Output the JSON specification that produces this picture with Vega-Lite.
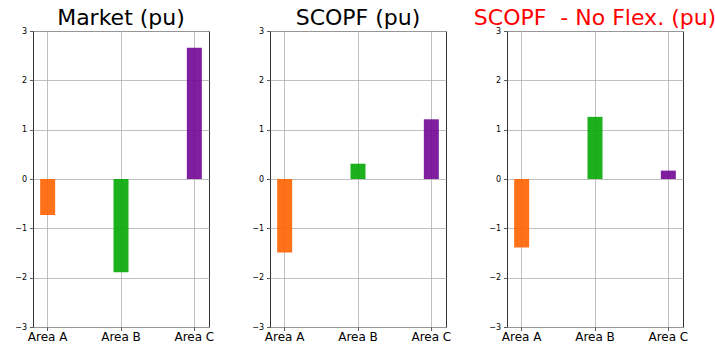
{
  "$schema": "https://vega.github.io/schema/vega-lite/v6.json",
  "autosize": {"type": "pad"},
  "padding": {"left": 14, "top": 6, "right": 0, "bottom": 3},
  "background": "white",
  "config": {
    "font": "DejaVu Sans",
    "view": {"stroke": "#333333", "strokeWidth": 1},
    "title": {"font": "DejaVu Sans", "fontSize": 22, "fontWeight": "normal", "color": "black", "offset": -3, "anchor": "middle"},
    "axis": {
      "grid": true, "gridColor": "#b0b0b0", "gridWidth": 0.8,
      "domain": false, "tickColor": "#333333", "tickSize": 3.5, "tickWidth": 0.8,
      "labelFont": "DejaVu Sans", "labelColor": "black", "title": null
    }
  },
  "data": {"values": [
    {"panel": "Market", "area": "Area A", "value": -0.73},
    {"panel": "Market", "area": "Area B", "value": -1.89},
    {"panel": "Market", "area": "Area C", "value": 2.66},
    {"panel": "SCOPF", "area": "Area A", "value": -1.49},
    {"panel": "SCOPF", "area": "Area B", "value": 0.31},
    {"panel": "SCOPF", "area": "Area C", "value": 1.21},
    {"panel": "NoFlex", "area": "Area A", "value": -1.39},
    {"panel": "NoFlex", "area": "Area B", "value": 1.26},
    {"panel": "NoFlex", "area": "Area C", "value": 0.17}
  ]},
  "spacing": 61,
  "bounds": "flush",
  "hconcat": [
    {
      "title": {"text": "Market (pu)"},
      "width": 176, "height": 296,
      "transform": [{"filter": "datum.panel === 'Market'"}],
      "mark": {"type": "bar", "opacity": 0.9},
      "encoding": {
        "x": {"field": "area", "type": "nominal", "sort": null,
              "scale": {"type": "band", "paddingInner": 0.7955, "paddingOuter": 0.0977},
              "axis": {"labelAngle": 0, "labelFontSize": 12, "labelPadding": 1}},
        "y": {"field": "value", "type": "quantitative",
              "scale": {"domain": [-3, 3], "nice": false},
              "axis": {"values": [-3, -2, -1, 0, 1, 2, 3], "format": "d", "labelFontSize": 8, "labelPadding": 3,
                       "labelExpr": "replace(datum.label, '-', '\u2212')"}},
        "color": {"field": "area", "type": "nominal", "legend": null,
                  "scale": {"domain": ["Area A", "Area B", "Area C"], "range": ["#ff6300", "#04aa04", "#710694"]}}
      }
    },
    {
      "title": {"text": "SCOPF (pu)"},
      "width": 176, "height": 296,
      "transform": [{"filter": "datum.panel === 'SCOPF'"}],
      "mark": {"type": "bar", "opacity": 0.9},
      "encoding": {
        "x": {"field": "area", "type": "nominal", "sort": null,
              "scale": {"type": "band", "paddingInner": 0.7955, "paddingOuter": 0.0977},
              "axis": {"labelAngle": 0, "labelFontSize": 12, "labelPadding": 1}},
        "y": {"field": "value", "type": "quantitative",
              "scale": {"domain": [-3, 3], "nice": false},
              "axis": {"values": [-3, -2, -1, 0, 1, 2, 3], "format": "d", "labelFontSize": 8, "labelPadding": 3,
                       "labelExpr": "replace(datum.label, '-', '\u2212')"}},
        "color": {"field": "area", "type": "nominal", "legend": null,
                  "scale": {"domain": ["Area A", "Area B", "Area C"], "range": ["#ff6300", "#04aa04", "#710694"]}}
      }
    },
    {
      "title": {"text": "SCOPF\u00a0 - No Flex. (pu)", "color": "#ff0000"},
      "width": 176, "height": 296,
      "transform": [{"filter": "datum.panel === 'NoFlex'"}],
      "mark": {"type": "bar", "opacity": 0.9},
      "encoding": {
        "x": {"field": "area", "type": "nominal", "sort": null,
              "scale": {"type": "band", "paddingInner": 0.7955, "paddingOuter": 0.0977},
              "axis": {"labelAngle": 0, "labelFontSize": 12, "labelPadding": 1}},
        "y": {"field": "value", "type": "quantitative",
              "scale": {"domain": [-3, 3], "nice": false},
              "axis": {"values": [-3, -2, -1, 0, 1, 2, 3], "format": "d", "labelFontSize": 8, "labelPadding": 3,
                       "labelExpr": "replace(datum.label, '-', '\u2212')"}},
        "color": {"field": "area", "type": "nominal", "legend": null,
                  "scale": {"domain": ["Area A", "Area B", "Area C"], "range": ["#ff6300", "#04aa04", "#710694"]}}
      }
    }
  ]
}
